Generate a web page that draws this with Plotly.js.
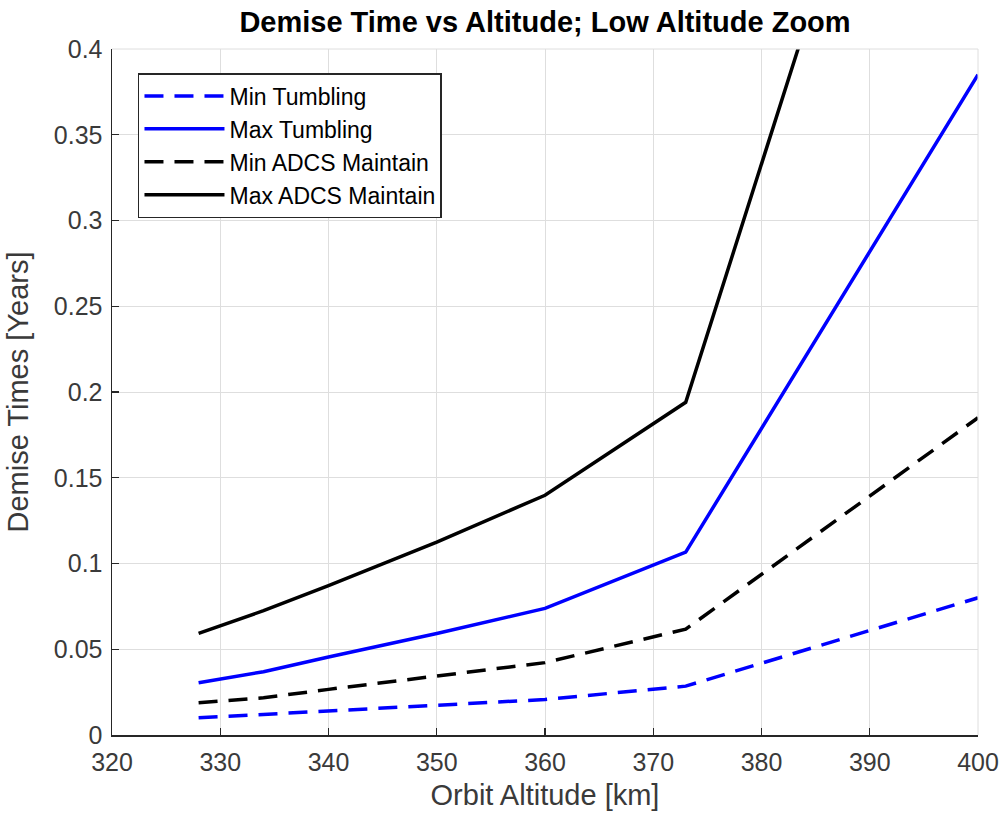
<!DOCTYPE html>
<html>
<head>
<meta charset="utf-8">
<script src="https://cdn.plot.ly/plotly-3.0.1.min.js"></script>
<style>html,body{margin:0;padding:0;background:#fff}#chart{width:1000px;height:821px}</style>
</head>
<body>
<div id="chart"></div>
<script>
const altitude = [328, 334, 340, 350, 360, 373, 400];
const minTumbling = [0.010, 0.012, 0.014, 0.0174, 0.0207, 0.0285, 0.080];
const maxTumbling = [0.0305, 0.0369, 0.0455, 0.0592, 0.0738, 0.1066, 0.385];
const minADCS = [0.0188, 0.0217, 0.0266, 0.0344, 0.0422, 0.0617, 0.185];
const maxADCS = [0.0592, 0.0725, 0.0871, 0.1125, 0.1398, 0.194, 0.73];
const seriesNames = ['Min Tumbling', 'Max Tumbling', 'Min ADCS Maintain', 'Max ADCS Maintain'];

const blue = '#0000ff', black = '#000000';
const dash = '19px,11px';
const W = 3.5;

const traces = [
  {x: altitude, y: minTumbling, name: seriesNames[0], mode: 'lines', line: {color: blue, width: W, dash: dash}},
  {x: altitude, y: maxTumbling, name: seriesNames[1], mode: 'lines', line: {color: blue, width: W}},
  {x: altitude, y: minADCS, name: seriesNames[2], mode: 'lines', line: {color: black, width: W, dash: dash}},
  {x: altitude, y: maxADCS, name: seriesNames[3], mode: 'lines', line: {color: black, width: W}}
];

const axisColor = '#262626';
const font = 'Liberation Sans, Arial, sans-serif';

const layout = {
  width: 1000, height: 821,
  paper_bgcolor: '#ffffff', plot_bgcolor: '#ffffff',
  margin: {l: 112, r: 22, t: 49, b: 86},
  font: {family: font, color: axisColor, size: 25},
  title: {text: 'Demise Time vs Altitude; Low Altitude Zoom', font: {family: font, size: 29, color: '#000', weight: 'bold'}, x: 0.5, xref: 'paper', y: 0.973, yref: 'container', yanchor: 'middle'},
  xaxis: {
    range: [320, 400], dtick: 10, tick0: 320,
    showgrid: true, gridcolor: '#dedede', gridwidth: 1,
    showline: true, linecolor: axisColor, linewidth: 1.5,
    ticks: 'inside', ticklen: 7, tickcolor: axisColor, tickwidth: 1.2,
    zeroline: false, ticklabelstandoff: 4,
    tickfont: {family: font, size: 25, color: '#3a3a3a'},
    title: {text: 'Orbit Altitude [km]', font: {family: font, size: 29, color: '#3a3a3a'}, standoff: 10},
    automargin: false
  },
  yaxis: {
    range: [0, 0.4], dtick: 0.05, tick0: 0,
    showgrid: true, gridcolor: '#dedede', gridwidth: 1,
    showline: true, linecolor: axisColor, linewidth: 1.5,
    ticks: 'inside', ticklen: 7, tickcolor: axisColor, tickwidth: 1.2,
    zeroline: false, ticklabelstandoff: 3,
    tickfont: {family: font, size: 25, color: '#3a3a3a'},
    title: {text: 'Demise Times [Years]', font: {family: font, size: 29, color: '#3a3a3a'}, standoff: 16},
    automargin: false
  },
  legend: {
    x: 0.03, y: 0.965, xanchor: 'left', yanchor: 'top',
    bgcolor: '#ffffff', bordercolor: axisColor, borderwidth: 1.5,
    font: {family: font, size: 23, color: '#000'},
    itemwidth: 80, tracegroupgap: 0
  },
  shapes: [
    {type: 'line', xref: 'paper', yref: 'paper', x0: 0, x1: 1, y0: 1, y1: 1, line: {color: '#dedede', width: 1}},
    {type: 'line', xref: 'paper', yref: 'paper', x0: 1, x1: 1, y0: 0, y1: 1, line: {color: '#dedede', width: 1}}
  ],
  showlegend: true
};

Plotly.newPlot('chart', traces, layout, {displayModeBar: false, staticPlot: true});
</script>
</body>
</html>
